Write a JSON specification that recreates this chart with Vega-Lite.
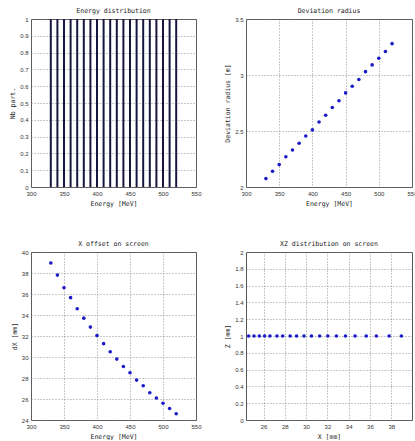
{
  "$schema": "https://vega.github.io/schema/vega-lite/v6.json",
  "background": "white",
  "padding": {"left": 9, "top": 7, "right": 0, "bottom": 0},
  "datasets": {
    "beam": [
      {"E": 330, "N": 1, "R": 2.075, "dX": 38.95, "Z": 1},
      {"E": 340, "N": 1, "R": 2.14, "dX": 37.8, "Z": 1},
      {"E": 350, "N": 1, "R": 2.2, "dX": 36.6, "Z": 1},
      {"E": 360, "N": 1, "R": 2.27, "dX": 35.65, "Z": 1},
      {"E": 370, "N": 1, "R": 2.33, "dX": 34.6, "Z": 1},
      {"E": 380, "N": 1, "R": 2.39, "dX": 33.7, "Z": 1},
      {"E": 390, "N": 1, "R": 2.455, "dX": 32.85, "Z": 1},
      {"E": 400, "N": 1, "R": 2.51, "dX": 32.04, "Z": 1},
      {"E": 410, "N": 1, "R": 2.58, "dX": 31.27, "Z": 1},
      {"E": 420, "N": 1, "R": 2.64, "dX": 30.5, "Z": 1},
      {"E": 430, "N": 1, "R": 2.71, "dX": 29.8, "Z": 1},
      {"E": 440, "N": 1, "R": 2.77, "dX": 29.1, "Z": 1},
      {"E": 450, "N": 1, "R": 2.84, "dX": 28.5, "Z": 1},
      {"E": 460, "N": 1, "R": 2.9, "dX": 27.8, "Z": 1},
      {"E": 470, "N": 1, "R": 2.96, "dX": 27.26, "Z": 1},
      {"E": 480, "N": 1, "R": 3.03, "dX": 26.6, "Z": 1},
      {"E": 490, "N": 1, "R": 3.09, "dX": 26.1, "Z": 1},
      {"E": 500, "N": 1, "R": 3.15, "dX": 25.6, "Z": 1},
      {"E": 510, "N": 1, "R": 3.21, "dX": 25.1, "Z": 1},
      {"E": 520, "N": 1, "R": 3.28, "dX": 24.6, "Z": 1}
    ]
  },
  "columns": 2,
  "spacing": {"row": 65, "column": 50},
  "bounds": "flush",
  "concat": [
    {
      "width": 165, "height": 168,
      "title": "Energy distribution",
      "data": {"name": "beam"},
      "mark": {"type": "rule", "strokeWidth": 2, "color": "#16163e"},
      "encoding": {
        "x": {"field": "E", "type": "quantitative", "title": "Energy [MeV]",
              "scale": {"domain": [300, 550], "nice": false, "zero": false},
              "axis": {"values": [300, 350, 400, 450, 500, 550]}},
        "y": {"field": "N", "type": "quantitative", "title": "Nb part.",
              "scale": {"domain": [0, 1], "nice": false},
              "axis": {"values": [0, 0.1, 0.2, 0.3, 0.4, 0.5, 0.6, 0.7, 0.8, 0.9, 1], "format": ".1~f"}},
        "y2": {"datum": 0}
      }
    },
    {
      "width": 166, "height": 168,
      "title": "Deviation radius",
      "data": {"name": "beam"},
      "mark": {"type": "point", "filled": true, "shape": "circle", "size": 13, "color": "#1a1ac8", "opacity": 1},
      "encoding": {
        "x": {"field": "E", "type": "quantitative", "title": "Energy [MeV]",
              "scale": {"domain": [300, 550], "nice": false, "zero": false},
              "axis": {"values": [300, 350, 400, 450, 500, 550]}},
        "y": {"field": "R", "type": "quantitative", "title": "Deviation radius [m]",
              "scale": {"domain": [2, 3.5], "nice": false, "zero": false},
              "axis": {"values": [2, 2.5, 3, 3.5], "format": "~g"}}
      }
    },
    {
      "width": 165, "height": 168,
      "title": "X offset on screen",
      "data": {"name": "beam"},
      "mark": {"type": "point", "filled": true, "shape": "circle", "size": 13, "color": "#1a1ac8", "opacity": 1},
      "encoding": {
        "x": {"field": "E", "type": "quantitative", "title": "Energy [MeV]",
              "scale": {"domain": [300, 550], "nice": false, "zero": false},
              "axis": {"values": [300, 350, 400, 450, 500, 550]}},
        "y": {"field": "dX", "type": "quantitative", "title": "dX [mm]",
              "scale": {"domain": [24, 40], "nice": false, "zero": false},
              "axis": {"values": [24, 26, 28, 30, 32, 34, 36, 38, 40]}}
      }
    },
    {
      "width": 166, "height": 168,
      "title": "XZ distribution on screen",
      "data": {"name": "beam"},
      "mark": {"type": "point", "filled": true, "shape": "circle", "size": 13, "color": "#1a1ac8", "opacity": 1},
      "encoding": {
        "x": {"field": "dX", "type": "quantitative", "title": "X [mm]",
              "scale": {"domain": [24.35, 39.95], "nice": false, "zero": false},
              "axis": {"values": [26, 28, 30, 32, 34, 36, 38]}},
        "y": {"field": "Z", "type": "quantitative", "title": "Z [mm]",
              "scale": {"domain": [0, 2], "nice": false},
              "axis": {"values": [0, 0.2, 0.4, 0.6, 0.8, 1, 1.2, 1.4, 1.6, 1.8, 2], "format": ".1~f"}}
      }
    }
  ],
  "config": {
    "view": {"stroke": "#555555", "strokeWidth": 1},
    "title": {"font": "DejaVu Sans Mono", "fontSize": 6.5, "fontWeight": "normal", "color": "#222222", "offset": 2},
    "axis": {
      "domain": false,
      "ticks": false,
      "grid": true,
      "gridColor": "#777777",
      "gridDash": [1, 2],
      "gridWidth": 0.8,
      "gridOpacity": 1,
      "labelFont": "Liberation Sans",
      "labelFontSize": 6,
      "labelColor": "#333333",
      "labelPadding": 3,
      "labelFlush": false,
      "labelOverlap": false,
      "titleFont": "DejaVu Sans Mono",
      "titleFontSize": 6.5,
      "titleFontWeight": "normal",
      "titleColor": "#222222",
      "titlePadding": 4
    }
  }
}
